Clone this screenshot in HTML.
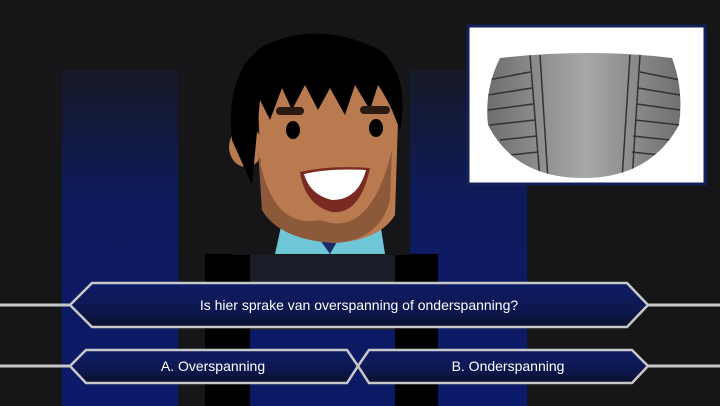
<!DOCTYPE html>
<html><head><meta charset="utf-8"><style>
html,body{margin:0;padding:0;background:#161618;}
svg{display:block;}
text{font-family:"Liberation Sans",sans-serif;fill:#fff;}
</style></head><body>
<svg width="720" height="406" viewBox="0 0 720 406">
<defs>
<linearGradient id="col" x1="0" y1="0" x2="0" y2="1">
<stop offset="0" stop-color="#171a26"/><stop offset="0.4" stop-color="#0e1a5e"/><stop offset="1" stop-color="#0c1a6a"/></linearGradient>
<linearGradient id="bar" x1="0" y1="0" x2="0" y2="1">
<stop offset="0" stop-color="#0f1c66"/><stop offset="0.6" stop-color="#0d1850"/><stop offset="1" stop-color="#0a0f2c"/></linearGradient>
<linearGradient id="tire" x1="0" y1="0" x2="1" y2="0">
<stop offset="0" stop-color="#6a6a6a"/><stop offset="0.5" stop-color="#a8a8a8"/><stop offset="1" stop-color="#6a6a6a"/></linearGradient>
<clipPath id="tclip"><path d="M500 58 Q590 48 672 58 Q684 90 679 125 Q650 178 583 178 Q515 178 488 125 Q484 90 500 58Z"/></clipPath>
</defs>
<rect width="720" height="406" fill="#161618"/>
<rect x="62" y="70" width="116" height="336" fill="url(#col)"/>
<rect x="410" y="70" width="117" height="336" fill="url(#col)"/>
<rect x="205" y="254" width="45" height="152" fill="#000"/>
<rect x="395" y="254" width="43" height="152" fill="#000"/>
<rect x="250" y="254" width="145" height="76" fill="#1b1d28"/>
<rect x="250" y="330" width="145" height="76" fill="#0c1a66"/>
<g>
<rect x="232" y="40" width="178" height="215" fill="#161618"/>
<path d="M275 254 L282 222 L380 222 L385 254 Z" fill="#6ec6d6"/>
<path d="M320 240 L330 254 L338 240 Z" fill="#1b2a66"/>
<ellipse cx="246" cy="147" rx="17" ry="20" fill="#b97a50"/>
<path d="M258 100 Q258 70 320 70 Q396 70 398 120 L395 215 Q380 240 335 243 Q280 240 262 210 Z" fill="#b97a50"/>
<path d="M258 150 L262 210 Q280 240 335 243 Q380 240 390 200 L392 150 Q370 240 320 220 Q270 230 258 150Z" fill="#8c5a3a"/>
<path d="M232 140 Q225 70 265 45 Q320 20 380 50 Q410 75 400 130 L392 110 Q385 95 378 85 L370 110 L355 85 L345 115 L330 88 L318 110 L305 85 L292 110 L282 88 L270 120 L260 100 L252 185 Z" fill="#000"/>
<ellipse cx="376" cy="128" rx="7" ry="9" fill="#000"/>
<ellipse cx="293" cy="130" rx="7" ry="9" fill="#000"/>
<rect x="276" y="107" width="28" height="8" rx="4" fill="#2a1a10"/>
<rect x="360" y="106" width="30" height="8" rx="4" fill="#2a1a10"/>
<path d="M300 172 Q330 165 370 168 Q360 215 332 212 Q305 205 300 172Z" fill="#7a2a20"/>
<path d="M304 174 Q330 168 366 170 Q358 200 332 200 Q310 195 304 174Z" fill="#fff"/>
</g>
<g>
<rect x="468" y="26" width="237" height="158" fill="#fff" stroke="#14205a" stroke-width="3"/>
<g clip-path="url(#tclip)">
<rect x="480" y="45" width="210" height="140" fill="url(#tire)"/>
<g stroke="#333" stroke-width="1.5">
<line x1="530" y1="55" x2="540" y2="180"/><line x1="540" y1="55" x2="548" y2="180"/>
<line x1="630" y1="55" x2="622" y2="180"/><line x1="640" y1="55" x2="632" y2="180"/>
<line x1="488" y1="80" x2="530" y2="72"/><line x1="488" y1="95" x2="532" y2="88"/><line x1="488" y1="110" x2="533" y2="104"/><line x1="490" y1="125" x2="535" y2="120"/><line x1="500" y1="140" x2="537" y2="136"/><line x1="510" y1="155" x2="538" y2="152"/>
<line x1="640" y1="72" x2="680" y2="80"/><line x1="638" y1="88" x2="680" y2="95"/><line x1="637" y1="104" x2="680" y2="110"/><line x1="635" y1="120" x2="680" y2="125"/><line x1="633" y1="136" x2="670" y2="140"/><line x1="632" y1="152" x2="660" y2="155"/>
</g>
</g>
</g>
<g stroke="#c8c8c8" stroke-width="3">
<line x1="0" y1="305" x2="70" y2="305"/><line x1="648" y1="305" x2="720" y2="305"/>
<line x1="0" y1="366" x2="70" y2="366"/><line x1="648" y1="366" x2="720" y2="366"/>
</g>
<g>
<polygon points="70,305 92,283 627,283 648,305 627,327 92,327" fill="url(#bar)" stroke="#c8c8c8" stroke-width="2.5"/>
<text x="359" y="310" font-size="14" text-anchor="middle">Is hier sprake van overspanning of onderspanning?</text>
</g>
<g>
<polygon points="70,366 86,350 347,350 358,366 347,383 86,383" fill="url(#bar)" stroke="#c8c8c8" stroke-width="2.5"/>
<text x="213" y="371" font-size="14" text-anchor="middle">A. Overspanning</text>
</g>
<g>
<polygon points="358,366 369,350 632,350 648,366 632,383 369,383" fill="url(#bar)" stroke="#c8c8c8" stroke-width="2.5"/>
<text x="508" y="371" font-size="14" text-anchor="middle">B. Onderspanning</text>
</g>
</svg>
</body></html>
